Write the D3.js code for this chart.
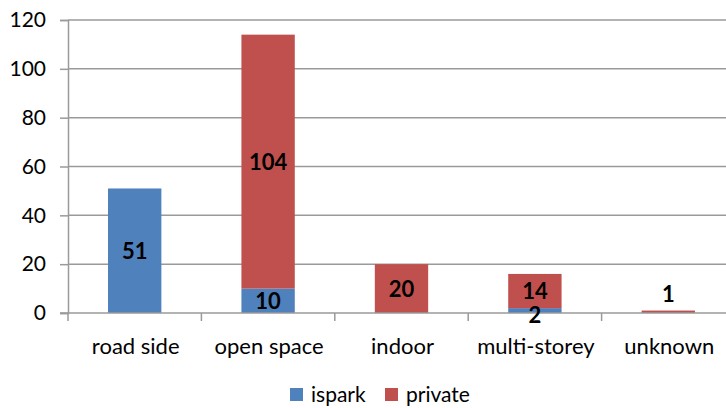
<!DOCTYPE html>
<html>
<head>
<meta charset="utf-8">
<script src="https://cdn.jsdelivr.net/npm/d3@7/dist/d3.min.js"></script>
<style>
  html, body { margin: 0; padding: 0; background: #fff; }
  svg { display: block; }
  text { font-family: Lato, "Open Sans", sans-serif; fill: #000; }
</style>
</head>
<body>
<svg id="chart" width="726" height="408"></svg>
<script>
// Parking facilities by location type, split by operator
const categories = ["road side", "open space", "indoor", "multi-storey", "unknown"];
const seriesNames = ["ispark", "private"];
const isparkValues = [51, 10, 0, 2, 0];
const privateValues = [0, 104, 20, 14, 1];
const yTicks = [0, 20, 40, 60, 80, 100, 120];
const colors = ["#4F81BD", "#C0504D"];

const width = 726, height = 408;
const plot = { left: 68, right: 735, top: 20, bottom: 313 };

const svg = d3.select("#chart");

const x = d3.scaleBand()
  .domain(categories)
  .range([plot.left, plot.right])
  .paddingInner(0.6)
  .paddingOuter(0.3);

const y = d3.scaleLinear()
  .domain([0, 120])
  .range([plot.bottom, plot.top]);

// Gridlines
svg.append("g")
  .selectAll("line")
  .data(yTicks.filter(d => d > 0))
  .join("line")
  .attr("x1", plot.left).attr("x2", width)
  .attr("y1", d => y(d)).attr("y2", d => y(d))
  .attr("stroke", "#9a9a9a").attr("stroke-width", 1.5);

// Stacked data
const rows = categories.map((c, i) => ({ category: c, ispark: isparkValues[i], private: privateValues[i] }));
const stack = d3.stack().keys(seriesNames)(rows);

const layers = svg.append("g")
  .selectAll("g")
  .data(stack)
  .join("g")
  .attr("fill", (d, i) => colors[i]);

layers.selectAll("rect")
  .data(d => d)
  .join("rect")
  .attr("x", d => x(d.data.category))
  .attr("width", x.bandwidth())
  .attr("y", d => y(d[1]))
  .attr("height", d => y(d[0]) - y(d[1]));

// Y axis
const yAxis = d3.axisLeft(y).tickValues(yTicks).tickSize(8).tickPadding(14);
const yg = svg.append("g").attr("transform", `translate(${plot.left},0)`).call(yAxis);
yg.select(".domain").attr("stroke", "#9a9a9a").attr("stroke-width", 1.5);
yg.selectAll(".tick line").attr("stroke", "#9a9a9a").attr("stroke-width", 1.5);
yg.selectAll(".tick text").attr("font-size", 21).attr("font-family", "Lato, sans-serif").attr("fill", "#000");

// X axis baseline with category separators
const xg = svg.append("g");
xg.append("line")
  .attr("x1", plot.left - 8).attr("x2", width)
  .attr("y1", plot.bottom).attr("y2", plot.bottom)
  .attr("stroke", "#9a9a9a").attr("stroke-width", 1.5);
const step = x.step();
const bounds = categories.map(c => x(c) - (step - x.bandwidth()) / 2);
xg.selectAll("line.sep")
  .data(bounds)
  .join("line")
  .attr("class", "sep")
  .attr("x1", d => d).attr("x2", d => d)
  .attr("y1", plot.bottom).attr("y2", plot.bottom + 8)
  .attr("stroke", "#9a9a9a").attr("stroke-width", 1.5);
xg.selectAll("text")
  .data(categories)
  .join("text")
  .attr("x", d => x(d) + x.bandwidth() / 2 + 1)
  .attr("y", 354)
  .attr("text-anchor", "middle")
  .attr("font-size", 22)
  .text(d => d);

// Value labels centred in each segment, nudged where small segments crowd
const nudge = { "multi-storey|ispark": 5, "unknown|private": -18 };
const labels = [];
stack.forEach(layer => {
  layer.forEach(d => {
    const v = d[1] - d[0];
    if (v > 0) labels.push({ key: d.data.category + "|" + layer.key, cat: d.data.category, v, mid: (d[0] + d[1]) / 2 });
  });
});
svg.append("g")
  .selectAll("text")
  .data(labels)
  .join("text")
  .attr("x", d => x(d.cat) + x.bandwidth() / 2)
  .attr("y", d => y(d.mid) + (nudge[d.key] || 0))
  .attr("dy", "0.36em")
  .attr("text-anchor", "middle")
  .attr("font-size", 22)
  .attr("font-weight", "bold")
  .text(d => d.v);

// Legend
const legend = svg.append("g");
const legendItems = [
  { name: seriesNames[0], color: colors[0], x: 290 },
  { name: seriesNames[1], color: colors[1], x: 385 }
];
legendItems.forEach(it => {
  legend.append("rect").attr("x", it.x).attr("y", 388).attr("width", 13).attr("height", 13).attr("fill", it.color);
  legend.append("text").attr("x", it.x + 21).attr("y", 402).attr("font-size", 21).text(it.name);
});
</script>
</body>
</html>
